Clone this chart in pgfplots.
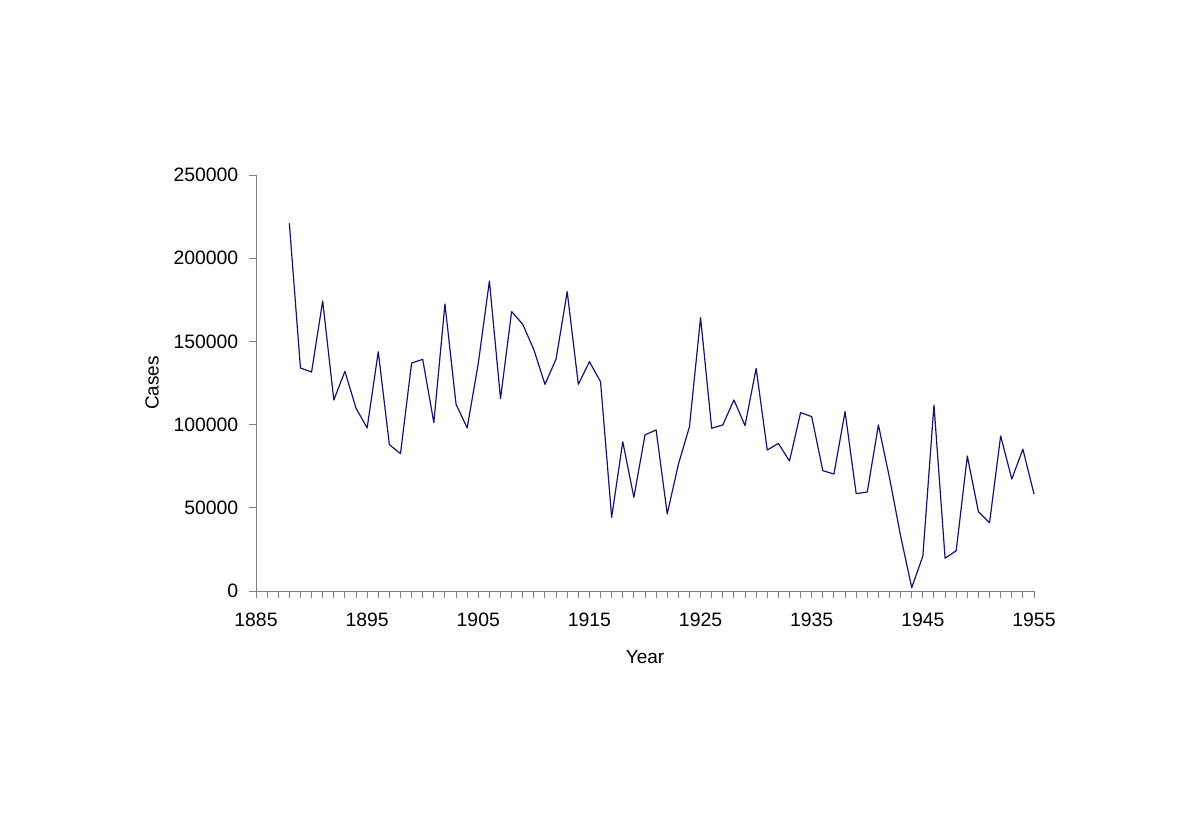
\documentclass[border=0pt]{standalone}
\usepackage{pgfplots}
\pgfplotsset{compat=1.18}
\usepackage{fontspec}
\setmainfont{Liberation Sans}
\definecolor{navyline}{RGB}{20,20,110}
\definecolor{axgray}{RGB}{128,128,128}
\begin{document}
\fontsize{9.5pt}{11pt}\selectfont
\begin{tikzpicture}
\path[use as bounding box] (0pt,0pt) rectangle (600pt,415.5pt);
\begin{axis}[
  at={(128pt,120pt)}, anchor=south west,
  scale only axis, width=389pt, height=208pt,
  xmin=1885, xmax=1955, ymin=0, ymax=250000,
  axis lines=left, axis line style={axgray, line width=0.5pt, -},
  xtick={1885,1895,...,1955}, minor x tick num=9,
  ytick={0,50000,...,250000},
  tick align=outside, tick style={axgray, line width=0.5pt},
  major tick length=3.5pt, minor tick length=3.5pt,
  scaled y ticks=false, scaled x ticks=false,
  /pgf/number format/assume math mode=true,
  /pgf/number format/fixed,
  /pgf/number format/precision=0,
  /pgf/number format/1000 sep={},
  xticklabel style={font=\fontsize{9.7pt}{11pt}\selectfont, yshift=-4pt},
  yticklabel style={font=\fontsize{9.7pt}{11pt}\selectfont, xshift=-2pt},
  xlabel={Year}, ylabel={Cases},
  xlabel style={font=\fontsize{9.7pt}{11pt}\selectfont},
  ylabel style={font=\fontsize{9.7pt}{11pt}\selectfont},
  every axis x label/.style={at={(axis description cs:0.5,-0.1587)}, anchor=center},
  every axis y label/.style={at={(axis description cs:-0.1337,0.5)}, rotate=90, anchor=center},
  clip=false,
]
\addplot[navyline, line width=0.6pt, line join=round, mark=none] coordinates {
(1888,221000) (1889,134000) (1890,131600) (1891,174300) (1892,114800)
(1893,132000) (1894,109800) (1895,98000) (1896,143800) (1897,88000)
(1898,82500) (1899,137000) (1900,139200) (1901,101200) (1902,172500)
(1903,112200) (1904,98000) (1905,136800) (1906,186300) (1907,115600)
(1908,167900) (1909,160300) (1910,145000) (1911,124200) (1912,139400)
(1913,179900) (1914,124200) (1915,137800) (1916,125800) (1917,44300)
(1918,89700) (1919,56300) (1920,93800) (1921,96800) (1922,46300)
(1923,76000) (1924,98700) (1925,164300) (1926,97800) (1927,99800)
(1928,114800) (1929,99400) (1930,133800) (1931,84700) (1932,88700)
(1933,78100) (1934,107200) (1935,104800) (1936,72300) (1937,70300)
(1938,107800) (1939,58500) (1940,59500) (1941,99800) (1942,68000)
(1943,33000) (1944,2000) (1945,21000) (1946,111800) (1947,19700)
(1948,24200) (1949,81100) (1950,47700) (1951,41000) (1952,93200)
(1953,67300) (1954,85200) (1955,58300)
};
\end{axis}
\end{tikzpicture}
\end{document}
